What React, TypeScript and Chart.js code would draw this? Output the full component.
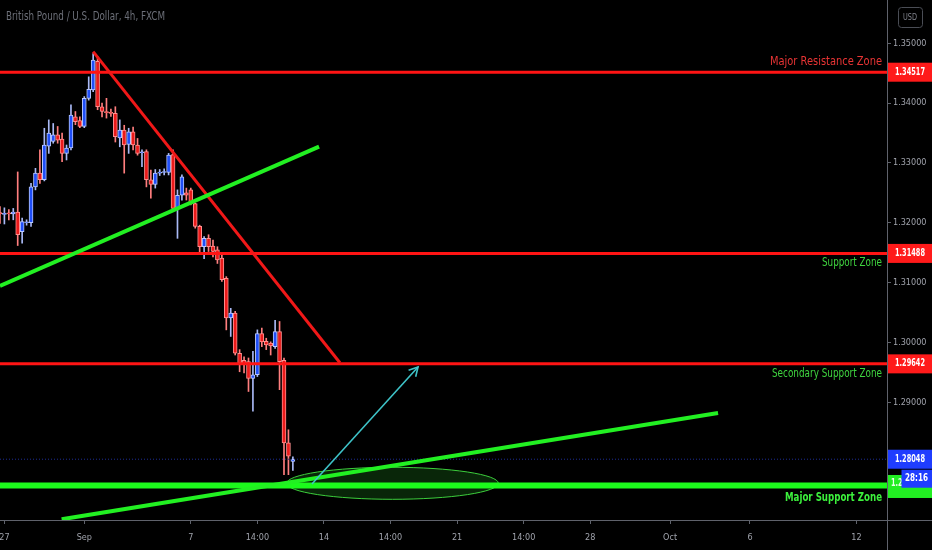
import React, { useEffect, useRef } from "react";
import { Chart, registerables } from "chart.js";

Chart.register(...registerables);

// ---------------- data ----------------
// 4h GBP/USD bars; bar index 0 = 27 Aug 00:00, one unit per 4h bar (weekends skipped)
const firstBarIndex = -1;
const opens = [
  1.3217, 1.3214, 1.3216, 1.3215, 1.3218, 1.3185, 1.3200, 1.3200, 1.3260, 1.3283,
  1.3272, 1.3328, 1.3336, 1.3347, 1.3340, 1.3316, 1.3325, 1.3377, 1.3371, 1.3361,
  1.3408, 1.3422, 1.3470, 1.3394, 1.3386, 1.3384, 1.3383, 1.3342, 1.3355, 1.3331,
  1.3352, 1.3330, 1.3317, 1.3319, 1.3272, 1.3264, 1.3283, 1.3284, 1.3284, 1.3314,
  1.3224, 1.3246, 1.3250, 1.3255, 1.3232, 1.3194, 1.3160, 1.3174, 1.3161, 1.3155,
  1.3141, 1.3107, 1.3041, 1.3049, 1.2982, 1.2970, 1.2968, 1.2940, 1.2946, 1.3015,
  1.3002, 1.2999, 1.2993, 1.3018, 1.2970, 1.2832, 1.2801,
];
const highs = [
  1.3227, 1.3225, 1.3222, 1.3224, 1.3285, 1.3208, 1.3205, 1.3266, 1.3291, 1.3322,
  1.3358, 1.3372, 1.3366, 1.3361, 1.3350, 1.3330, 1.3397, 1.3386, 1.3377, 1.3411,
  1.3444, 1.3483, 1.3478, 1.3400, 1.3408, 1.3390, 1.3394, 1.3372, 1.3363, 1.3358,
  1.3360, 1.3341, 1.3322, 1.3322, 1.3288, 1.3289, 1.3289, 1.3290, 1.3316, 1.3322,
  1.3255, 1.3280, 1.3258, 1.3258, 1.3233, 1.3196, 1.3177, 1.3180, 1.3171, 1.3160,
  1.3146, 1.3110, 1.3057, 1.3052, 1.2988, 1.2976, 1.2974, 1.2985, 1.3021, 1.3024,
  1.3007, 1.3001, 1.3037, 1.3035, 1.2974, 1.2854, 1.2809,
];
const lows = [
  1.3199, 1.3198, 1.3205, 1.3205, 1.3162, 1.3166, 1.3196, 1.3194, 1.3255, 1.3266,
  1.3270, 1.3316, 1.3333, 1.3333, 1.3302, 1.3305, 1.3322, 1.3364, 1.3359, 1.3359,
  1.3405, 1.3419, 1.3389, 1.3377, 1.3375, 1.3378, 1.3335, 1.3327, 1.3283, 1.3316,
  1.3322, 1.3313, 1.3294, 1.3260, 1.3241, 1.3258, 1.3279, 1.3280, 1.3280, 1.3221,
  1.3174, 1.3238, 1.3238, 1.3230, 1.3191, 1.3149, 1.3140, 1.3152, 1.3143, 1.3132,
  1.3102, 1.3021, 1.3010, 1.2979, 1.2951, 1.2949, 1.2918, 1.2885, 1.2943, 1.2993,
  1.2988, 1.2979, 1.2990, 1.2921, 1.2779, 1.2779, 1.2786,
];
const closes = [
  1.3215, 1.3216, 1.3215, 1.3218, 1.3180, 1.3202, 1.3201, 1.3260, 1.3283, 1.3272,
  1.3330, 1.3350, 1.3347, 1.3338, 1.3316, 1.3325, 1.3380, 1.3369, 1.3361, 1.3408,
  1.3423, 1.3472, 1.3394, 1.3386, 1.3384, 1.3383, 1.3344, 1.3355, 1.3330, 1.3352,
  1.3330, 1.3316, 1.3318, 1.3272, 1.3264, 1.3283, 1.3284, 1.3285, 1.3313, 1.3224,
  1.3246, 1.3277, 1.3246, 1.3233, 1.3194, 1.3160, 1.3174, 1.3160, 1.3152, 1.3138,
  1.3105, 1.3041, 1.3049, 1.2982, 1.2965, 1.2963, 1.2940, 1.2946, 1.3015, 1.3001,
  1.2996, 1.2994, 1.3018, 1.2968, 1.2832, 1.2810, 1.28048,
];

const xTickPositions = [0, 18, 42, 57, 72, 87, 102, 117, 132, 150, 168, 192];
const xTickLabels = ["27", "Sep", "7", "14:00", "14", "14:00", "21", "14:00", "28", "Oct", "6", "12"];
const yTickValues = [1.35, 1.34, 1.33, 1.32, 1.31, 1.3, 1.29, 1.28];

const xRange = [-0.99, 198.87];
const yRange = [1.27032, 1.35724];

const resistanceLevel = 1.34517;
const supportLevel = 1.31488;
const secondarySupportLevel = 1.29642;
const majorSupportLevel = 1.27609;
const lastPrice = 1.28048;
const timerText = "28:16";
const headerText = "British Pound / U.S. Dollar, 4h, FXCM";

const redTrendX = [20, 75.6];
const redTrendY = [1.3486, 1.2966];
const greenUpperX = [-1, 70.9];
const greenUpperY = [1.30944, 1.33272];
const greenLowerX = [12.9, 160.8];
const greenLowerY = [1.27044, 1.28821];
const arrowX = [69.3, 93.2];
const arrowY = [1.27634, 1.2959];
const ellipseX = [63.6, 111.3];
const ellipseY = [1.27378, 1.27913];

// ---------------- helpers ----------------
const FONT = "'DejaVu Sans Condensed', 'DejaVu Sans', sans-serif";

function fitText(ctx: any, text: string, xLeft: number, yMid: number, width: number, font: string, color: string) {
  ctx.save();
  ctx.font = font;
  ctx.fillStyle = color;
  ctx.textBaseline = "middle";
  ctx.textAlign = "left";
  const w = ctx.measureText(text).width || 1;
  ctx.translate(xLeft, yMid);
  ctx.scale(width / w, 1);
  ctx.fillText(text, 0, 0);
  ctx.restore();
}

const overlayPlugin = {
  id: "tvOverlay",
  beforeDraw(chart: any) {
    const { ctx, width, height } = chart;
    ctx.save();
    ctx.fillStyle = "#000000";
    ctx.fillRect(0, 0, width, height);
    ctx.restore();
  },
  beforeDatasetsDraw(chart: any) {
    const { ctx, chartArea } = chart;
    const x = chart.scales.x;
    const y = chart.scales.y;
    const x0 = x.getPixelForValue(ellipseX[0]);
    const x1 = x.getPixelForValue(ellipseX[1]);
    const y0 = y.getPixelForValue(ellipseY[0]);
    const y1 = y.getPixelForValue(ellipseY[1]);
    ctx.save();
    ctx.beginPath();
    ctx.rect(chartArea.left, chartArea.top, chartArea.right - chartArea.left, chartArea.bottom - chartArea.top);
    ctx.clip();
    ctx.beginPath();
    ctx.ellipse((x0 + x1) / 2, (y0 + y1) / 2, Math.abs(x1 - x0) / 2, Math.abs(y1 - y0) / 2, 0, 0, Math.PI * 2);
    ctx.fillStyle = "rgba(25, 110, 25, 0.35)";
    ctx.fill();
    ctx.lineWidth = 1;
    ctx.strokeStyle = "#3ccf3c";
    ctx.stroke();
    ctx.restore();
    fitText(ctx, headerText, 6, 17, 159, `12px ${FONT}`, "#6c6f78");
  },
  afterDatasetsDraw(chart: any) {
    const { ctx, chartArea } = chart;
    const x = chart.scales.x;
    const y = chart.scales.y;
    // arrow head
    const ax0 = x.getPixelForValue(arrowX[0]);
    const ay0 = y.getPixelForValue(arrowY[0]);
    const ax1 = x.getPixelForValue(arrowX[1]);
    const ay1 = y.getPixelForValue(arrowY[1]);
    const ang = Math.atan2(ay1 - ay0, ax1 - ax0);
    const len = 10;
    ctx.save();
    ctx.strokeStyle = "#3ec3c8";
    ctx.lineWidth = 1.6;
    ctx.beginPath();
    ctx.moveTo(ax1 - len * Math.cos(ang - 0.5), ay1 - len * Math.sin(ang - 0.5));
    ctx.lineTo(ax1, ay1);
    ctx.lineTo(ax1 - len * Math.cos(ang + 0.5), ay1 - len * Math.sin(ang + 0.5));
    ctx.stroke();
    ctx.restore();
    // zone texts
    const right = chartArea.right - 5;
    const t1 = y.getPixelForValue(resistanceLevel) - 10.5;
    fitText(ctx, "Major Resistance Zone", right - 112, t1, 112, `12px ${FONT}`, "#e83434");
    const t2 = y.getPixelForValue(supportLevel) + 9;
    fitText(ctx, "Support Zone", right - 60, t2, 60, `12px ${FONT}`, "#3fd43f");
    const t3 = y.getPixelForValue(secondarySupportLevel) + 10;
    fitText(ctx, "Secondary Support Zone", right - 110, t3, 110, `12px ${FONT}`, "#3fd43f");
    const t4 = y.getPixelForValue(majorSupportLevel) + 12;
    fitText(ctx, "Major Support Zone", right - 97, t4, 97, `bold 12px ${FONT}`, "#3cf03c");
  },
  afterDraw(chart: any) {
    const { ctx, chartArea, width, height } = chart;
    const y = chart.scales.y;
    ctx.save();
    ctx.strokeStyle = "#5f626b";
    ctx.lineWidth = 1;
    ctx.beginPath();
    ctx.moveTo(chartArea.right + 0.5, 0);
    ctx.lineTo(chartArea.right + 0.5, height);
    ctx.moveTo(0, chartArea.bottom + 0.5);
    ctx.lineTo(width, chartArea.bottom + 0.5);
    ctx.stroke();
    // USD box
    ctx.strokeStyle = "#4a4d55";
    ctx.beginPath();
    if (ctx.roundRect) ctx.roundRect(898.5, 7.5, 24, 20, 3);
    else ctx.rect(898.5, 7.5, 24, 20);
    ctx.stroke();
    ctx.restore();
    fitText(ctx, "USD", 903, 17.5, 14, `9px ${FONT}`, "#80838c");

    const bx = chartArea.right + 1;
    const bw = width - bx;
    const box = (v: number, color: string, text: string) => {
      const py = y.getPixelForValue(v);
      ctx.save();
      ctx.fillStyle = color;
      ctx.fillRect(bx, py - 9.5, bw, 19);
      ctx.restore();
      fitText(ctx, text, bx + 7, py, 30, `bold 10px ${FONT}`, "#ffffff");
    };
    box(resistanceLevel, "#ff1a1a", resistanceLevel.toFixed(5));
    box(supportLevel, "#ff1a1a", supportLevel.toFixed(5));
    box(secondarySupportLevel, "#ff1a1a", secondarySupportLevel.toFixed(5));
    box(lastPrice, "#1f3dff", lastPrice.toFixed(5));
    // major support label (taller) + timer
    const ms = y.getPixelForValue(majorSupportLevel);
    ctx.save();
    ctx.fillStyle = "#22ee22";
    ctx.fillRect(bx, ms - 10.5, bw, 23);
    ctx.restore();
    fitText(ctx, majorSupportLevel.toFixed(5), bx + 3, ms - 2, 30, `bold 10px ${FONT}`, "#e8ffe8");
    const lp = y.getPixelForValue(lastPrice);
    ctx.save();
    ctx.fillStyle = "#1f3dff";
    ctx.fillRect(901.5, lp + 10.5, width - 901.5, 18);
    ctx.restore();
    fitText(ctx, timerText, 905, lp + 19.5, 23, `bold 10px ${FONT}`, "#ffffff");
  },
};

export default function App() {
  const ref = useRef<HTMLCanvasElement>(null);

  useEffect(() => {
    document.body.style.margin = "0";
    document.body.style.background = "#000";
    const canvas = ref.current;
    if (!canvas) return;

    const barX = opens.map((_, i) => firstBarIndex + i);
    const up = opens.map((o, i) => closes[i] >= o);
    const wicks = barX.map((xv, i) => ({ x: xv, y: [lows[i], highs[i]] }));
    const bodies = barX.map((xv, i) => ({ x: xv, y: [opens[i], closes[i]] }));
    const hLine = (v: number) => [
      { x: xRange[0], y: v },
      { x: xRange[1], y: v },
    ];
    const seg = (xs: number[], ys: number[]) => [
      { x: xs[0], y: ys[0] },
      { x: xs[1], y: ys[1] },
    ];
    const lineDs = (label: string, data: any[], color: string, w: number, order: number, extra: any = {}) => ({
      type: "line",
      label,
      data,
      borderColor: color,
      backgroundColor: color,
      borderWidth: w,
      pointRadius: 0,
      fill: false,
      tension: 0,
      order,
      borderCapStyle: "butt",
      ...extra,
    });

    const chart = new Chart(canvas, {
      type: "bar",
      data: {
        datasets: [
          {
            type: "bar",
            label: "wicks",
            data: wicks,
            backgroundColor: up.map((u) => (u ? "#a9b9f5" : "#ff7e7e")),
            borderWidth: 0,
            barThickness: 1,
            grouped: false,
            order: 20,
          },
          {
            type: "bar",
            label: "bodies",
            data: bodies,
            backgroundColor: up.map((u) => (u ? "#1f4ef7" : "#ea1a1a")),
            borderColor: up.map((u) => (u ? "#b9c8ff" : "#ff9090")),
            borderWidth: 1,
            borderSkipped: false,
            barThickness: 4,
            minBarLength: 1,
            grouped: false,
            order: 19,
          },
          lineDs("last price", hLine(lastPrice), "#1e2c94", 1, 18, { borderDash: [1, 2] }),
          lineDs("Major Resistance Zone", hLine(resistanceLevel), "#ff1414", 3, 6),
          lineDs("Support Zone", hLine(supportLevel), "#ff1414", 3, 6),
          lineDs("Secondary Support Zone", hLine(secondarySupportLevel), "#ff1414", 3, 6),
          lineDs("Major Support Zone", hLine(majorSupportLevel), "#1cfa1c", 6, 5),
          lineDs("down trend", seg(redTrendX, redTrendY), "#f01818", 3, 4),
          lineDs("upper trend", seg(greenUpperX, greenUpperY), "#22f022", 4, 3),
          lineDs("lower trend", seg(greenLowerX, greenLowerY), "#22f022", 4, 3),
          lineDs("arrow", seg(arrowX, arrowY), "#3ec3c8", 1.6, 2),
        ],
      },
      options: {
        responsive: false,
        animation: false,
        devicePixelRatio: 1,
        events: [],
        layout: { padding: 0 },
        plugins: {
          legend: { display: false },
          tooltip: { enabled: false },
          title: { display: false },
        },
        scales: {
          x: {
            type: "linear",
            min: xRange[0],
            max: xRange[1],
            offset: false,
            grid: { display: true, offset: false, drawOnChartArea: false, color: "#5f626b", tickLength: 4 },
            border: { display: false },
            afterBuildTicks: (scale: any) => {
              scale.ticks = xTickPositions.map((v) => ({ value: v }));
            },
            afterFit: (scale: any) => {
              scale.height = 30;
              scale.paddingLeft = 0;
              scale.paddingRight = 0;
            },
            ticks: {
              autoSkip: false,
              maxRotation: 0,
              minRotation: 0,
              padding: 8,
              color: "#9fa2ab",
              font: { family: FONT, size: 9 },
              callback: (value: any) => {
                const i = xTickPositions.indexOf(Number(value));
                return i >= 0 ? xTickLabels[i] : "";
              },
            },
          },
          y: {
            type: "linear",
            position: "right",
            min: yRange[0],
            max: yRange[1],
            beginAtZero: false,
            grid: { display: true, drawOnChartArea: false, color: "#5f626b", tickLength: 4 },
            border: { display: false },
            afterBuildTicks: (scale: any) => {
              scale.ticks = yTickValues.map((v) => ({ value: v }));
            },
            afterFit: (scale: any) => {
              scale.width = 45;
              scale.paddingTop = 0;
              scale.paddingBottom = 0;
            },
            ticks: {
              autoSkip: false,
              padding: 2,
              color: "#9fa2ab",
              font: { family: FONT, size: 9 },
              callback: (value: any) => Number(value).toFixed(5),
            },
          },
        },
      },
      plugins: [overlayPlugin],
    } as any);

    return () => chart.destroy();
  }, []);

  return <canvas ref={ref} width={932} height={550} style={{ display: "block" }} />;
}
